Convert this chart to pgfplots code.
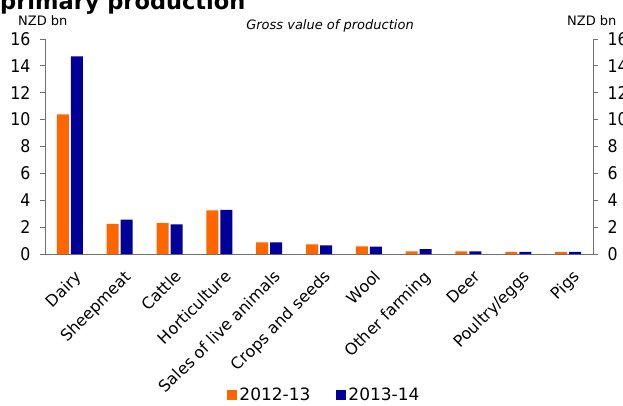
\documentclass[border=0pt]{standalone}
\usepackage{pgfplots}
\pgfplotsset{compat=1.18}
\usepackage{fontspec}
\setmainfont{DejaVu Sans}
\newfontfamily\condfont{DejaVu Sans Condensed}
\definecolor{cOrange}{HTML}{FF6600}
\definecolor{cNavy}{HTML}{000099}
\definecolor{axgray}{HTML}{707070}

\pgfplotstableread{
x a b
0 10.4 14.7
1 2.25 2.55
2 2.3 2.2
3 3.25 3.28
4 0.87 0.87
5 0.72 0.65
6 0.57 0.55
7 0.2 0.37
8 0.2 0.2
9 0.15 0.15
10 0.15 0.15
}\datatable

\begin{document}
\begin{tikzpicture}[x=1pt,y=1pt]
\pgfplotsset{
  base/.style={
    scale only axis, width=548pt, height=215pt,
    at={(45pt,151pt)}, anchor=south west,
    xmin=-0.5, xmax=10.5, ymin=0, ymax=16,
    ytick={0,2,...,16},
    tick align=outside,
    major tick length=5pt,
    y tick style={axgray, line width=0.8pt},
    /pgf/number format/assume math mode=true,
    yticklabel style={font=\condfont\fontsize{17.5}{17.5}\selectfont, text=black},
    axis line style={axgray, line width=0.8pt},
  }
}
\begin{axis}[base,
  axis x line*=bottom, axis y line*=left,
  xtick={0,...,10},
  x tick style={draw=none},
  xticklabels={Dairy,Sheepmeat,Cattle,Horticulture,Sales of live animals,Crops and seeds,Wool,Other farming,Deer,Poultry/eggs,Pigs},
  xticklabel style={xshift=4pt, yshift=-10pt, rotate=45, anchor=north east, font=\fontsize{16}{16}\selectfont, inner sep=0pt},
  yticklabel style={xshift=-6pt},
  ybar=2pt, bar width=12pt,
  legend columns=2,
  legend style={draw=none, at={(0.51,-0.655)}, anchor=center, font=\fontsize{17}{17}\selectfont,
    /tikz/every even column/.append style={column sep=24pt}},
  legend image code/.code={\fill[#1] (2pt,-5pt) rectangle (12pt,5pt);},
]
\addplot[fill=cOrange, draw=none] table[x=x,y=a]{\datatable};
\addlegendentry{2012-13}
\addplot[fill=cNavy, draw=none] table[x=x,y=b]{\datatable};
\addlegendentry{2013-14}
\end{axis}
\begin{axis}[base,
  axis x line=none, axis y line*=right,
  yticklabel style={xshift=6pt},
]
\addplot[draw=none] coordinates {(0,0)};
\end{axis}
\node[anchor=base west, font=\fontsize{22.5}{22.5}\selectfont\bfseries, inner sep=0pt] at (0,395.5) {primary production};
\node[anchor=base west, font=\fontsize{13}{13}\selectfont, inner sep=0pt] at (18,379) {NZD bn};
\node[anchor=base west, font=\fontsize{13}{13}\selectfont, inner sep=0pt] at (567,379) {NZD bn};
\node[anchor=base, font=\fontsize{13}{13}\selectfont\itshape, inner sep=0pt] at (330,375) {Gross value of production};
\pgfresetboundingbox
\path[use as bounding box] (0,0) rectangle (623,405);
\end{tikzpicture}
\end{document}
